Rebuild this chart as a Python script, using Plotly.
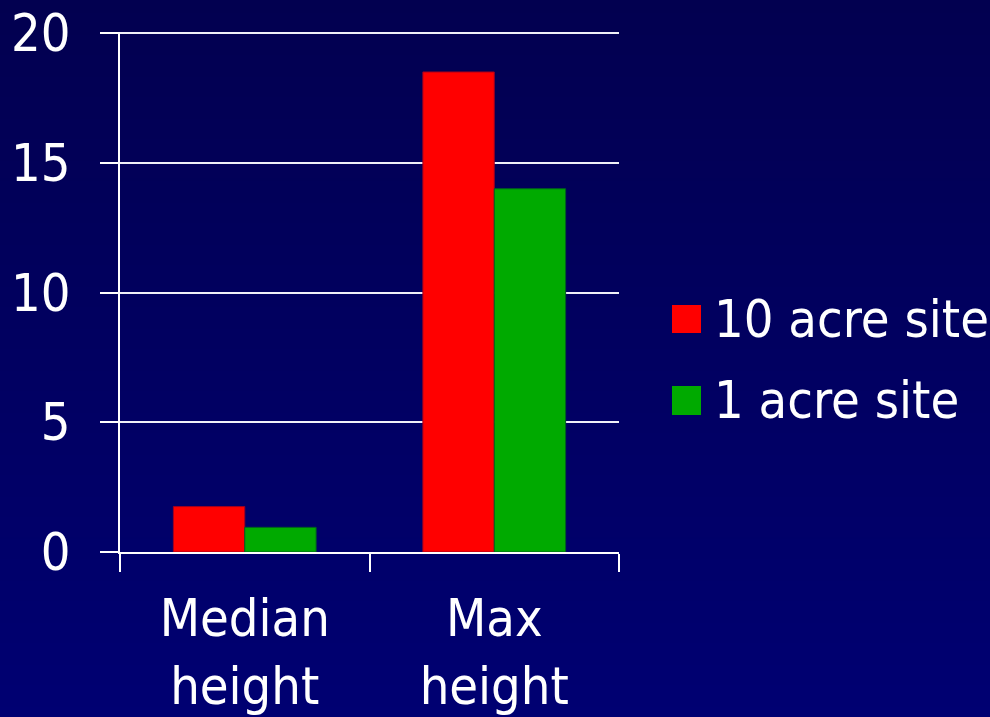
import base64
import struct
import zlib

import plotly.graph_objects as go

# --- data -------------------------------------------------------------
categories = ["Median<br>height", "Max<br>height"]
series_names = ["10 acre site", "1 acre site"]
ten_acre = [1.75, 18.5]
one_acre = [0.95, 14.0]
y_ticks = [0, 5, 10, 15, 20]

# --- page geometry ----------------------------------------------------
W, H = 990, 717
M_L, M_R, M_T, M_B = 120, 371, 32, 165
PW, PH = W - M_L - M_R, H - M_T - M_B

FONT = "DejaVu Sans Condensed, Tahoma, DejaVu Sans, sans-serif"
FS = 52
RED, GREEN = "#ff0000", "#00aa00"


def px_x(px):
    return (px - M_L) / PW


def px_y(py):
    return (H - M_B - py) / PH


def gradient_png(top, bottom, rows):
    """Vertical 1-px wide RGB gradient encoded as a PNG data URI."""
    raw = b""
    for i in range(rows):
        t = i / (rows - 1)
        rgb = bytes(round(a + (b - a) * t) for a, b in zip(top, bottom))
        raw += b"\x00" + rgb

    def chunk(tag, data):
        c = struct.pack(">I", len(data)) + tag + data
        return c + struct.pack(">I", zlib.crc32(tag + data) & 0xFFFFFFFF)

    png = b"\x89PNG\r\n\x1a\n"
    png += chunk(b"IHDR", struct.pack(">IIBBBBB", 1, rows, 8, 2, 0, 0, 0))
    png += chunk(b"IDAT", zlib.compress(raw, 9))
    png += chunk(b"IEND", b"")
    return "data:image/png;base64," + base64.b64encode(png).decode()


fig = go.Figure()
fig.add_trace(go.Bar(x=categories, y=ten_acre, name=series_names[0],
                     marker=dict(color=RED, line=dict(color="#a00020", width=1))))
fig.add_trace(go.Bar(x=categories, y=one_acre, name=series_names[1],
                     marker=dict(color=GREEN, line=dict(color="#006020", width=1))))

# custom legend: square swatches with large labels
legend_rows = [(RED, 305, 333), (GREEN, 386, 415)]
shapes, annotations = [], []
for name, (col, top, bot) in zip(series_names, legend_rows):
    shapes.append(dict(type="rect", xref="paper", yref="paper",
                       x0=px_x(672), x1=px_x(701), y0=px_y(bot), y1=px_y(top),
                       fillcolor=col, line=dict(width=0)))
    annotations.append(dict(xref="paper", yref="paper", x=px_x(712), y=px_y((top + bot) / 2),
                            xanchor="left", yanchor="middle", showarrow=False, text=name,
                            font=dict(family=FONT, size=FS, color="white")))

fig.update_layout(
    width=W, height=H,
    margin=dict(l=M_L, r=M_R, t=M_T, b=M_B, pad=0, autoexpand=False),
    paper_bgcolor="#000070",
    plot_bgcolor="rgba(0,0,0,0)",
    barmode="group", bargap=0.428, bargroupgap=0,
    showlegend=False,
    font=dict(family=FONT, size=FS, color="white"),
    images=[dict(source=gradient_png((2, 0, 80), (0, 0, 114), 256),
                 xref="paper", yref="paper", x=px_x(0), y=px_y(0),
                 sizex=W / PW, sizey=H / PH, sizing="stretch",
                 xanchor="left", yanchor="top", layer="below")],
    shapes=shapes,
    annotations=annotations,
)

fig.update_xaxes(
    type="category", range=[-0.5, 1.5], automargin=False,
    showline=True, linecolor="white", linewidth=2,
    ticks="outside", tickson="boundaries", ticklen=18, tickwidth=2, tickcolor="white",
    showgrid=False, ticklabelstandoff=20,
    tickfont=dict(family=FONT, size=FS, color="white"),
)
fig.update_yaxes(
    range=[0, 20.04], tickvals=y_ticks, automargin=False,
    showline=True, linecolor="white", linewidth=2,
    ticks="outside", ticklen=18, tickwidth=2, tickcolor="white",
    showgrid=True, gridcolor="#f0f0f8", gridwidth=2,
    zeroline=False, ticklabelstandoff=19,
    tickfont=dict(family=FONT, size=FS, color="white"),
)

fig.write_html("out.html")
